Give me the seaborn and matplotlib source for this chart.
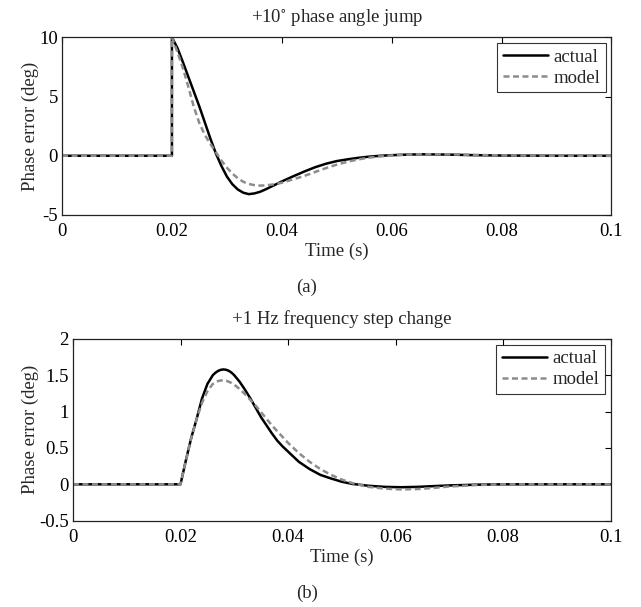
"""
Phase error response of the PLL: actual vs. model, for a +10 deg phase
angle jump (a) and a +1 Hz frequency step change (b).
"""
import matplotlib
matplotlib.use("Agg")
import matplotlib.pyplot as plt
import seaborn as sns
import pandas as pd

# ---- data -------------------------------------------------------------------
# (a) +10 deg phase angle jump
jump_time = [0.0, 0.020, 0.020, 0.021, 0.022, 0.023, 0.024, 0.025, 0.026,
             0.027, 0.028, 0.029, 0.030, 0.031, 0.032, 0.033, 0.034, 0.035,
             0.036, 0.037, 0.038, 0.039, 0.040, 0.042, 0.044, 0.046, 0.048,
             0.050, 0.052, 0.054, 0.056, 0.058, 0.060, 0.063, 0.066, 0.070,
             0.075, 0.080, 0.090, 0.100]
jump_actual = [0.0, 0.0, 10.0, 9.1, 7.9, 6.65, 5.4, 4.15, 2.8,
               1.45, 0.2, -0.85, -1.75, -2.4, -2.85, -3.12, -3.24, -3.18,
               -3.05, -2.85, -2.62, -2.4, -2.17, -1.75, -1.35, -0.98, -0.68,
               -0.45, -0.3, -0.17, -0.07, 0.0, 0.05, 0.1, 0.12, 0.1,
               0.05, 0.02, 0.0, 0.0]
jump_model = [0.0, 0.0, 10.0, 8.75, 7.4, 5.8, 4.1, 2.75, 1.75,
              1.0, 0.3, -0.4, -1.0, -1.5, -1.9, -2.2, -2.38, -2.48,
              -2.52, -2.5, -2.45, -2.38, -2.28, -2.0, -1.72, -1.38, -1.05,
              -0.75, -0.5, -0.3, -0.15, -0.05, 0.03, 0.1, 0.13, 0.12,
              0.07, 0.03, 0.0, 0.0]

# (b) +1 Hz frequency step change
step_time = [0.0, 0.020, 0.021, 0.022, 0.023, 0.024, 0.025, 0.026, 0.0265,
             0.027, 0.0275, 0.028, 0.0285, 0.029, 0.0295, 0.030, 0.031, 0.032,
             0.033, 0.034, 0.035, 0.036, 0.037, 0.038, 0.039, 0.040, 0.042,
             0.044, 0.046, 0.048, 0.050, 0.052, 0.055, 0.058, 0.061, 0.064,
             0.067, 0.070, 0.075, 0.080, 0.090, 0.100]
step_actual = [0.0, 0.0, 0.33, 0.64, 0.9, 1.18, 1.38, 1.5, 1.535,
               1.56, 1.575, 1.58, 1.575, 1.56, 1.535, 1.5, 1.41, 1.3,
               1.18, 1.05, 0.92, 0.81, 0.7, 0.6, 0.52, 0.45, 0.31,
               0.21, 0.13, 0.08, 0.035, 0.005, -0.02, -0.035, -0.04, -0.035,
               -0.025, -0.015, -0.005, 0.0, 0.0, 0.0]
step_model = [0.0, 0.0, 0.33, 0.64, 0.9, 1.12, 1.28, 1.38, 1.405,
              1.42, 1.428, 1.43, 1.425, 1.41, 1.393, 1.37, 1.31, 1.24,
              1.16, 1.08, 0.99, 0.9, 0.81, 0.73, 0.65, 0.57, 0.43,
              0.31, 0.21, 0.13, 0.065, 0.015, -0.035, -0.06, -0.07, -0.065,
              -0.05, -0.03, -0.01, 0.0, 0.0, 0.0]

x_ticks = [0, 0.02, 0.04, 0.06, 0.08, 0.1]
x_tick_labels = ["0", "0.02", "0.04", "0.06", "0.08", "0.1"]
jump_y_ticks = [-5, 0, 5, 10]
jump_y_labels = ["-5", "0", "5", "10"]
step_y_ticks = [-0.5, 0, 0.5, 1, 1.5, 2]
step_y_labels = ["-0.5", "0", "0.5", "1", "1.5", "2"]

panels = [
    {
        "title": "+10$^{\\circ}$ phase angle jump",
        "tag": "(a)",
        "time": jump_time, "actual": jump_actual, "model": jump_model,
        "ylim": (-5, 10), "yticks": jump_y_ticks, "ylabels": jump_y_labels,
        "rect": [0.0968, 0.6458, 0.857, 0.2928],
    },
    {
        "title": "+1 Hz frequency step change",
        "tag": "(b)",
        "time": step_time, "actual": step_actual, "model": step_model,
        "ylim": (-0.5, 2), "yticks": step_y_ticks, "ylabels": step_y_labels,
        "rect": [0.1138, 0.1422, 0.839, 0.2995],
    },
]

sns.set_style("white")
plt.rcParams["font.family"] = ["Liberation Serif", "DejaVu Serif"]
plt.rcParams["mathtext.fontset"] = "stix"
FS = 13.5

fig = plt.figure(figsize=(6.41, 6.07), dpi=100)

for p in panels:
    ax = fig.add_axes(p["rect"])
    df = pd.DataFrame({"t": p["time"], "actual": p["actual"], "model": p["model"]})

    sns.lineplot(data=df, x="t", y="actual", ax=ax, color="black",
                 linewidth=1.8, estimator=None, sort=False, label="actual")
    sns.lineplot(data=df, x="t", y="model", ax=ax, color="#8c8c8c",
                 linewidth=1.8, estimator=None, sort=False, label="model",
                 linestyle=(0, (2.4, 1.4)))

    ax.set_xlim(0, 0.1)
    ax.set_ylim(*p["ylim"])
    ax.set_xticks(x_ticks)
    ax.set_xticklabels(x_tick_labels)
    ax.set_yticks(p["yticks"])
    ax.set_yticklabels(p["ylabels"])
    ax.tick_params(direction="in", length=4, width=0.8, top=True, right=True,
                   labelsize=FS, colors="black")
    ax.tick_params(axis="x", pad=6)
    ax.tick_params(axis="y", pad=3)
    for side in ax.spines.values():
        side.set_color("#222222")
        side.set_linewidth(0.9)

    ax.set_xlabel("Time (s)", fontsize=FS, labelpad=2)
    ax.set_ylabel("Phase error (deg)", fontsize=FS, labelpad=0)
    ax.set_title(p["title"], fontsize=FS, pad=11)

    leg = ax.legend(loc="upper right", fontsize=FS, frameon=True, fancybox=False,
                    borderaxespad=0.3, handlelength=2.4, handletextpad=0.3,
                    borderpad=0.3, labelspacing=0.2)
    leg.get_frame().set_edgecolor("black")
    leg.get_frame().set_linewidth(0.8)

    # panel tag under the axes
    left, bottom, width, height = p["rect"]
    fig.text(0.479, bottom - 0.12, p["tag"], ha="center", va="center", fontsize=FS)

plt.savefig("out.png", dpi=100)
